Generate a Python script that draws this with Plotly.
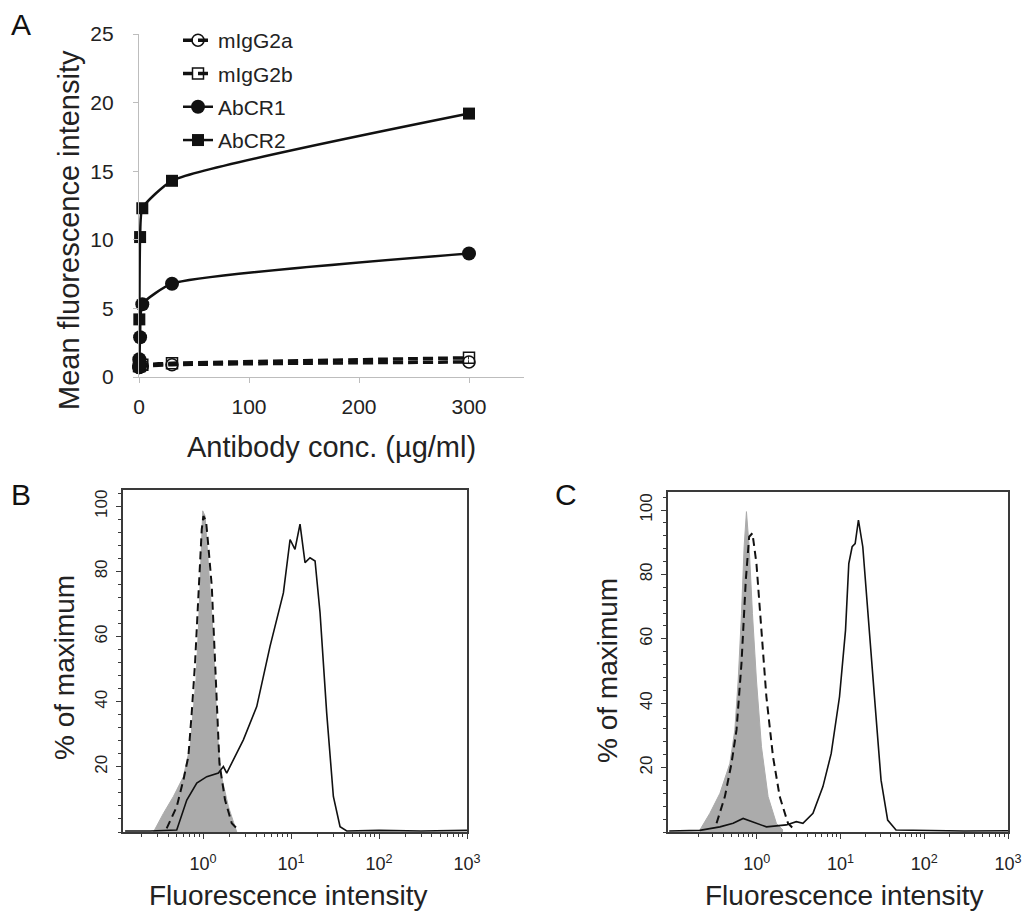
import plotly.graph_objects as go

W, H = 1032, 915
OX, OY = 8, 8  # page body margin compensation
FONT = "Arial, Liberation Sans, Helvetica, sans-serif"
INK = "#111111"

# ---------------- Panel A data ----------------
conc = [0.03, 0.3, 1, 3, 30, 300]
migg2a = [0.7, 0.7, 0.8, 0.8, 0.9, 1.1]
migg2b = [0.8, 0.8, 0.9, 0.9, 1.0, 1.4]
abcr1 = [0.8, 1.3, 2.9, 5.3, 6.8, 9.0]
abcr2 = [1.0, 4.2, 10.2, 12.3, 14.3, 19.2]

# ---------------- Panel B data (histograms) ----------------
B_ctrl_x = [0.273, 0.354, 0.460, 0.598, 0.711, 0.776, 0.832, 0.885, 0.925, 0.966, 0.991,
            1.054, 1.119, 1.202, 1.288, 1.368, 1.455, 1.589, 1.941, 2.415]
B_ctrl_y = [0, 5.7, 10.9, 17.0, 26.2, 36.5, 46.8, 62.2, 77.5, 92.9, 98.6,
            97.0, 87.8, 74.5, 62.2, 46.8, 30.4, 18.1, 7.8, 0]
B_iso_x = [0.386, 0.502, 0.598, 0.681, 0.743, 0.811, 0.885, 0.966, 1.009, 1.081, 1.148,
           1.256, 1.345, 1.429, 1.535, 1.778, 2.118, 2.523]
B_iso_y = [1.1, 7.8, 16.0, 23.2, 36.5, 51.9, 72.4, 92.9, 97.0, 95.5, 87.8,
           75.5, 57.0, 38.5, 21.1, 9.8, 2.7, 0.6]
B_ab_x = [0.13, 0.25, 0.502, 0.653, 0.848, 1.102, 1.493, 1.702, 1.858, 2.213, 2.871, 4.074,
          5.768, 8.185, 9.750, 11.09, 12.65, 14.42, 16.44, 18.75, 21.36, 25.43, 30.27, 36.06,
          42.95, 100, 300, 1000]
B_ab_y = [0.3, 0.3, 0.6, 9.8, 15.0, 17.0, 18.1, 20.1, 18.1, 22.2, 28.3, 38.5,
          57.0, 73.4, 89.8, 86.8, 94.5, 82.7, 84.2, 83.2, 67.3, 36.5, 10.9, 1.6,
          0.3, 0.5, 0.3, 0.5]

# ---------------- Panel C data (histograms) ----------------
C_ctrl_x = [0.209, 0.275, 0.363, 0.477, 0.547, 0.600, 0.657, 0.706, 0.753, 0.811, 0.888,
            0.991, 1.138, 1.365, 1.714, 2.056]
C_ctrl_y = [0.6, 5.8, 12.0, 21.3, 31.7, 47.2, 67.9, 88.6, 99.5, 88.6, 67.9,
            47.2, 26.5, 11.0, 2.7, 0.6]
C_iso_x = [0.331, 0.416, 0.499, 0.573, 0.657, 0.740, 0.811, 0.888, 0.991, 1.138, 1.303,
           1.563, 1.879, 2.360, 2.833]
C_iso_y = [2.7, 11.0, 21.3, 31.7, 52.4, 78.3, 91.7, 92.8, 83.4, 62.7, 42.0,
           23.4, 11.0, 2.7, 0.6]
C_ab_x = [0.09, 0.209, 0.363, 0.522, 0.687, 0.865, 1.303, 2.258, 2.966, 3.556, 4.688, 6.166,
          7.745, 9.727, 11.48, 12.56, 13.77, 14.96, 16.37, 18.45, 21.15, 25.43, 30.48, 36.56,
          46.0, 100, 300, 1000]
C_ab_y = [0.3, 0.5, 1.6, 2.7, 4.2, 3.2, 1.6, 2.2, 3.2, 2.7, 5.8, 14.1,
          24.4, 42.0, 62.7, 83.4, 88.6, 89.6, 96.9, 88.6, 67.9, 42.0, 16.1, 3.7,
          0.6, 0.4, 0.3, 0.4]

hist_xticks = [1, 10, 100, 1000]
hist_xticktext = ["10<sup>0</sup>", "10<sup>1</sup>", "10<sup>2</sup>", "10<sup>3</sup>"]
hist_yticks = [20, 40, 60, 80, 100]
minor_x = [m * 10 ** e for e in (-1, 0, 1, 2) for m in range(2, 10)]

fig = go.Figure()

SM = 0.5
# Panel A
fig.add_trace(go.Scatter(x=conc, y=migg2a, name="mIgG2a", mode="lines+markers", legendgroup="a",
                         line=dict(color=INK, width=3.5, dash="10px,5px", shape="spline", smoothing=SM),
                         marker=dict(symbol="circle-open", size=12, color=INK, line=dict(width=1.5)),
                         cliponaxis=False, xaxis="x", yaxis="y"))
fig.add_trace(go.Scatter(x=conc, y=migg2b, name="mIgG2b", mode="lines+markers", legendgroup="b",
                         line=dict(color=INK, width=3.5, dash="10px,5px", shape="spline", smoothing=SM),
                         marker=dict(symbol="square-open", size=11, color=INK, line=dict(width=1.5)),
                         cliponaxis=False, xaxis="x", yaxis="y"))
fig.add_trace(go.Scatter(x=conc, y=abcr1, name="AbCR1", mode="lines+markers", legendgroup="c",
                         line=dict(color=INK, width=2.5, shape="spline", smoothing=SM),
                         marker=dict(symbol="circle", size=14, color=INK),
                         cliponaxis=False, xaxis="x", yaxis="y"))
fig.add_trace(go.Scatter(x=conc, y=abcr2, name="AbCR2", mode="lines+markers", legendgroup="d",
                         line=dict(color=INK, width=2.5, shape="spline", smoothing=SM),
                         marker=dict(symbol="square", size=12, color=INK),
                         cliponaxis=False, xaxis="x", yaxis="y"))

# Panel B
fig.add_trace(go.Scatter(x=B_ctrl_x, y=B_ctrl_y, mode="lines", fill="tozeroy",
                         fillcolor="#ababab", line=dict(color="#ababab", width=1),
                         showlegend=False, xaxis="x2", yaxis="y2"))
fig.add_trace(go.Scatter(x=B_iso_x, y=B_iso_y, mode="lines",
                         line=dict(color=INK, width=2, dash="8px,5px"),
                         showlegend=False, xaxis="x2", yaxis="y2"))
fig.add_trace(go.Scatter(x=B_ab_x, y=B_ab_y, mode="lines",
                         line=dict(color=INK, width=1.6),
                         showlegend=False, xaxis="x2", yaxis="y2"))

# Panel C
fig.add_trace(go.Scatter(x=C_ctrl_x, y=C_ctrl_y, mode="lines", fill="tozeroy",
                         fillcolor="#ababab", line=dict(color="#ababab", width=1),
                         showlegend=False, xaxis="x3", yaxis="y3"))
fig.add_trace(go.Scatter(x=C_iso_x, y=C_iso_y, mode="lines",
                         line=dict(color=INK, width=2, dash="8px,5px"),
                         showlegend=False, xaxis="x3", yaxis="y3"))
fig.add_trace(go.Scatter(x=C_ab_x, y=C_ab_y, mode="lines",
                         line=dict(color=INK, width=1.6),
                         showlegend=False, xaxis="x3", yaxis="y3"))


def px(v):
    return (v - OX) / W


def py(v):
    return 1 - (v - OY) / H


axA = dict(showgrid=False, zeroline=False, showline=True, linecolor="#bdbdbd", linewidth=1.2,
           ticks="outside", ticklen=5, tickcolor="#bdbdbd", automargin=False,
           tickfont=dict(family=FONT, size=21, color="#222"))

histx = dict(type="log", showgrid=False, zeroline=False, showline=True, mirror=True,
             linecolor="#3a3a3a", linewidth=1.5, ticks="outside", ticklen=5, tickcolor="#3a3a3a",
             tickvals=hist_xticks, ticktext=hist_xticktext, automargin=False,
             minor=dict(tickvals=minor_x, ticks="outside", ticklen=3, tickcolor="#3a3a3a"),
             tickfont=dict(family=FONT, size=18, color="#222"), ticklabelstandoff=10)
histy = dict(showgrid=False, zeroline=False, showline=True, mirror=True,
             linecolor="#3a3a3a", linewidth=1.5, ticks="outside", ticklen=5, tickcolor="#3a3a3a",
             tickvals=hist_yticks, tickangle=-90, automargin=False,
             minor=dict(tick0=0, dtick=4, ticks="outside", ticklen=3, tickcolor="#3a3a3a"),
             tickfont=dict(family=FONT, size=17, color="#222"), ticklabelstandoff=2)

fig.update_layout(
    template="none",
    width=W, height=H, margin=dict(l=0, r=0, t=0, b=0, pad=0), autosize=False,
    paper_bgcolor="white", plot_bgcolor="white",
    font=dict(family=FONT, color="#222"),
    xaxis=dict(axA, domain=[px(139), px(524)], range=[0, 350], tickvals=[0, 100, 200, 300],
               ticklabelstandoff=6, anchor="y"),
    yaxis=dict(axA, domain=[py(377), py(34)], range=[0, 25], tickvals=[0, 5, 10, 15, 20, 25],
               ticklabelstandoff=15, anchor="x"),
    xaxis2=dict(histx, domain=[px(123), px(467)], range=[-0.91, 3], anchor="y2"),
    yaxis2=dict(histy, domain=[py(832), py(490)], range=[0, 105], anchor="x2"),
    xaxis3=dict(histx, domain=[px(668), px(1008)], range=[-1.06, 3], anchor="y3"),
    yaxis3=dict(histy, domain=[py(832), py(492)], range=[0, 105.6], anchor="x3"),
    legend=dict(x=px(178), y=py(20), xanchor="left", yanchor="top",
                font=dict(family=FONT, size=21, color="#222"), bgcolor="rgba(0,0,0,0)",
                traceorder="grouped", tracegroupgap=3, borderwidth=0),
    showlegend=True,
)

ann = [
    dict(text="A", x=px(9), y=py(6), font_size=30),
    dict(text="B", x=px(9), y=py(476), font_size=30),
    dict(text="C", x=px(553), y=py(476), font_size=30),
]
for a in ann:
    fig.add_annotation(text=a["text"], x=a["x"], y=a["y"], xref="paper", yref="paper",
                       xanchor="left", yanchor="top", showarrow=False,
                       font=dict(family=FONT, size=a["font_size"], color="#111"))

titles = [
    ("Mean fluorescence intensity", 69, 230, -90, 29),
    ("Antibody conc. (µg/ml)", 331, 447, 0, 29),
    ("% of maximum", 64, 668, -90, 28),
    ("Fluorescence intensity", 288, 895, 0, 28),
    ("% of maximum", 607, 671, -90, 28),
    ("Fluorescence intensity", 844, 895, 0, 28),
]
for t, x0, y0, ang, fs in titles:
    fig.add_annotation(text=t, x=px(x0), y=py(y0), xref="paper", yref="paper",
                       xanchor="center", yanchor="middle", showarrow=False, textangle=ang,
                       font=dict(family=FONT, size=fs, color="#222"))

fig.write_html("out.html")
